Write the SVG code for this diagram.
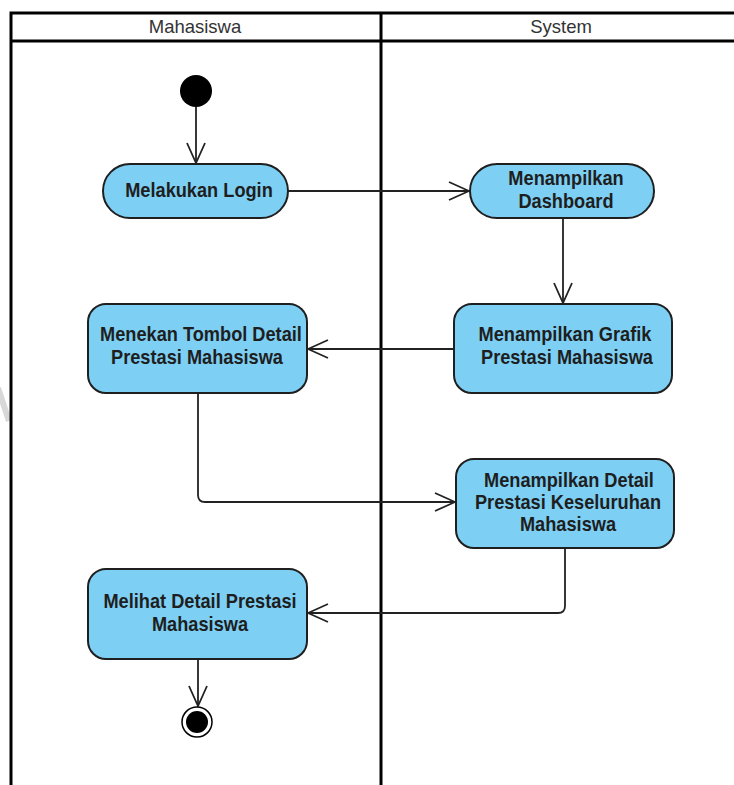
<svg xmlns="http://www.w3.org/2000/svg" width="734" height="785" viewBox="0 0 734 785">
<style>
.lane{fill:none;stroke:#000;stroke-width:3}
.hdr{font-family:"Liberation Sans",Arial,sans-serif;font-size:18.5px;fill:#333;text-anchor:middle}
.act{fill:#7dcff4;stroke:#1f1f1f;stroke-width:2}
.lbl{font-family:"Liberation Sans",Arial,sans-serif;font-size:18.2px;font-weight:bold;fill:#1e1e1e;text-anchor:middle;transform-box:fill-box;transform-origin:center;transform:scaleY(1.08)}
.edge{fill:none;stroke:#222;stroke-width:1.8}
</style>
<defs>
<marker id="open" markerUnits="userSpaceOnUse" markerWidth="24" markerHeight="24" viewBox="-22 -12 24 24" refX="0" refY="0" orient="auto">
<path d="M-20,-9 L0,0 L-20,9" fill="none" stroke="#222" stroke-width="1.8"/>
</marker>
</defs>
<rect width="734" height="785" fill="#fff"/>
<line x1="-2" y1="388" x2="9" y2="421" stroke="#d8d8d8" stroke-width="6"/>
<g id="swimlanes">
<path class="lane" d="M11,785 V13 H740"/>
<line class="lane" x1="10" y1="41" x2="740" y2="41"/>
<line class="lane" x1="381" y1="13" x2="381" y2="785"/>
<text class="hdr" x="195" y="33">Mahasiswa</text>
<text class="hdr" x="561" y="33">System</text>
</g>
<g id="connectors">
<line class="edge" x1="196" y1="107" x2="196" y2="163" marker-end="url(#open)"/>
<line class="edge" x1="288" y1="191" x2="469" y2="191" marker-end="url(#open)"/>
<line class="edge" x1="563" y1="218" x2="563" y2="303" marker-end="url(#open)"/>
<line class="edge" x1="454" y1="349" x2="308" y2="349" marker-end="url(#open)"/>
<path class="edge" d="M198,393 V495 Q198,502 205,502 H455" marker-end="url(#open)"/>
<path class="edge" d="M565,548 V606 Q565,613 558,613 H308" marker-end="url(#open)"/>
<line class="edge" x1="198" y1="659" x2="198" y2="706" marker-end="url(#open)"/>
</g>
<g id="start">
<circle cx="196" cy="91" r="16" fill="#000"/>
</g>
<g id="login">
<rect class="act" x="103" y="164" width="185" height="54" rx="27"/>
<text class="lbl" x="199" y="197">Melakukan Login</text>
</g>
<g id="dashboard">
<rect class="act" x="470" y="164" width="184" height="54" rx="27"/>
<text class="lbl" x="566" y="185">Menampilkan</text>
<text class="lbl" x="566" y="208">Dashboard</text>
</g>
<g id="grafik">
<rect class="act" x="454" y="304" width="218" height="89" rx="18"/>
<text class="lbl" x="565" y="341">Menampilkan Grafik</text>
<text class="lbl" x="567" y="364">Prestasi Mahasiswa</text>
</g>
<g id="tombol">
<rect class="act" x="88" y="304" width="219" height="89" rx="18"/>
<text class="lbl" x="201" y="341">Menekan Tombol Detail</text>
<text class="lbl" x="197" y="364">Prestasi Mahasiswa</text>
</g>
<g id="detail">
<rect class="act" x="456" y="459" width="218" height="89" rx="18"/>
<text class="lbl" x="569" y="487">Menampilkan Detail</text>
<text class="lbl" x="568" y="509">Prestasi Keseluruhan</text>
<text class="lbl" x="568" y="531">Mahasiswa</text>
</g>
<g id="melihat">
<rect class="act" x="88" y="569" width="219" height="90" rx="18"/>
<text class="lbl" x="200" y="608">Melihat Detail Prestasi</text>
<text class="lbl" x="200" y="631">Mahasiswa</text>
</g>
<g id="end">
<circle cx="197" cy="722" r="15" fill="#fff" stroke="#000" stroke-width="1.5"/>
<circle cx="197" cy="722" r="11" fill="#000"/>
</g>
</svg>
